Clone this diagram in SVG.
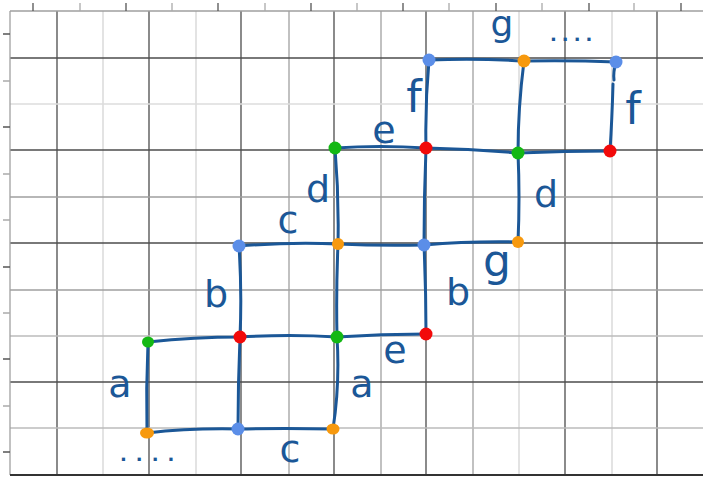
<svg xmlns="http://www.w3.org/2000/svg" width="703" height="479" viewBox="0 0 703 479">
<style>
.gd{stroke:#4d4d4d;stroke-width:1.3;fill:none}
.gm{stroke:#a0a0a0;stroke-width:1.3;fill:none}
.gl{stroke:#dcdcdc;stroke-width:1.6;fill:none}
.tk{stroke:#555;stroke-width:1.3}
.tl{stroke:#aaa;stroke-width:1.3}
.ln{stroke:#1b5797;stroke-width:3;fill:none;stroke-linecap:round;stroke-linejoin:round}
.lb{font-family:"DejaVu Sans",sans-serif;font-size:38px;fill:#1b5797;text-anchor:middle}
.dots{font-family:"DejaVu Sans",sans-serif;font-size:18px;font-weight:bold;fill:#1b5797}
.blue{fill:#5b8ee8}
.orange{fill:#f7990e}
.green{fill:#14b814}
.red{fill:#f20a0a}
</style>
<rect width="703" height="479" fill="#ffffff"/>
<g id="grid">
<path class="gd" d="M57 11V475M149 11V475M241 11V475M334 11V475M426 11V475M565 11V475M657 11V475"/>
<path class="gm" d="M289 11V475M381 11V475M473 11V475"/>
<path class="gl" d="M103 11V475M196 11V475M519 11V475M612 11V475"/>
<path class="gd" d="M10 58H703M10 150H703M10 243H703M10 382H703"/>
<path class="gm" d="M10 197H703M10 290H703"/>
<path class="gl" d="M10 104H703"/>
<path class="gm" d="M10 336H703M10 428H703" style="stroke:#bcbcbc"/>
<path class="gm" d="M10 11H703M10 11V475"/>
<path d="M10 475H703" stroke="#333" stroke-width="2"/>
<path class="tk" d="M33 3V11M126 3V11M218 3V11M311 3V11M403 3V11M496 3V11M589 3V11M681 3V11"/>
<path class="tl" d="M80 3V11M172 3V11M265 3V11M357 3V11M449 3V11M542 3V11M634 3V11"/>
<path class="tk" d="M3 34H10M3 127H10M3 267H10M3 359H10M3 452H10"/>
<path class="tl" d="M3 81H10M3 174H10M3 220H10M3 313H10M3 406H10"/>
</g>
<g id="connectors">
<path class="ln" d="M429 60Q476 58 524 61Q570 60 616 62"/>
<path class="ln" d="M335 148Q380 145 426 148Q472 149 518 153Q565 151 610 151"/>
<path class="ln" d="M239 246Q290 242 338 244Q380 246 424 245Q470 241 518 242"/>
<path class="ln" d="M148 342Q195 337 240 337Q290 334 337 337Q382 334 426 334"/>
<path class="ln" d="M147 433Q190 428 238 429Q285 428 333 429"/>
<path class="ln" d="M429 60Q425 104 426 148Q424 196 424 245Q426 290 426 334"/>
<path class="ln" d="M524 61Q518 108 518 153Q520 198 518 242"/>
<path class="ln" d="M616 62Q613 72 614 80M613 84Q612 120 610 151"/>
<path class="ln" d="M335 148Q339 196 338 244Q336 290 337 337Q340 384 333 429"/>
<path class="ln" d="M239 246Q242 292 240 337Q238 384 238 429"/>
<path class="ln" d="M148 342Q146 388 147 433"/>
</g>
<g id="labels">
<text class="lb" x="120" y="397">a</text>
<text class="lb" x="362" y="397">a</text>
<text class="lb" x="216" y="307">b</text>
<text class="lb" x="458" y="305">b</text>
<text class="lb" x="288" y="233">c</text>
<text class="lb" x="290" y="462">c</text>
<text class="lb" x="318" y="202">d</text>
<text class="lb" x="546" y="207">d</text>
<text class="lb" x="384" y="143">e</text>
<text class="lb" x="395" y="363">e</text>
<text class="lb" x="414" y="112" style="font-size:44px">f</text>
<text class="lb" x="633" y="124" style="font-size:44px">f</text>
<text class="lb" x="502" y="36" style="font-size:36px">g</text>
<text class="lb" x="497" y="276" style="font-size:44px">g</text>
<text class="dots" x="550" y="41" letter-spacing="5">....</text>
<text class="dots" x="120" y="461" letter-spacing="9">....</text>
</g>
<g id="A1"><circle class="blue" cx="429" cy="60" r="6.5"/></g>
<g id="A2"><circle class="orange" cx="524" cy="61" r="6.5"/></g>
<g id="A3"><circle class="blue" cx="616" cy="62" r="6.5"/></g>
<g id="B0"><circle class="green" cx="335" cy="148" r="6.5"/></g>
<g id="B1"><circle class="red" cx="426" cy="148" r="6.5"/></g>
<g id="B2"><circle class="green" cx="518" cy="153" r="6.5"/></g>
<g id="B3"><circle class="red" cx="610" cy="151" r="6.5"/></g>
<g id="C0"><circle class="blue" cx="239" cy="246" r="6.5"/></g>
<g id="C1"><circle class="orange" cx="338" cy="244" r="6"/></g>
<g id="C2"><circle class="blue" cx="424" cy="245" r="6.5"/></g>
<g id="C3"><circle class="orange" cx="518" cy="242" r="6"/></g>
<g id="D0"><ellipse class="green" cx="148" cy="342" rx="6" ry="5.5"/></g>
<g id="D1"><circle class="red" cx="240" cy="337" r="6.5"/></g>
<g id="D2"><circle class="green" cx="337" cy="337" r="6.5"/></g>
<g id="D3"><circle class="red" cx="426" cy="334" r="6.5"/></g>
<g id="E0"><ellipse class="orange" cx="147" cy="433" rx="7" ry="5.5"/></g>
<g id="E1"><circle class="blue" cx="238" cy="429" r="6.5"/></g>
<g id="E2"><ellipse class="orange" cx="333" cy="429" rx="6.5" ry="5.5"/></g>
</svg>
